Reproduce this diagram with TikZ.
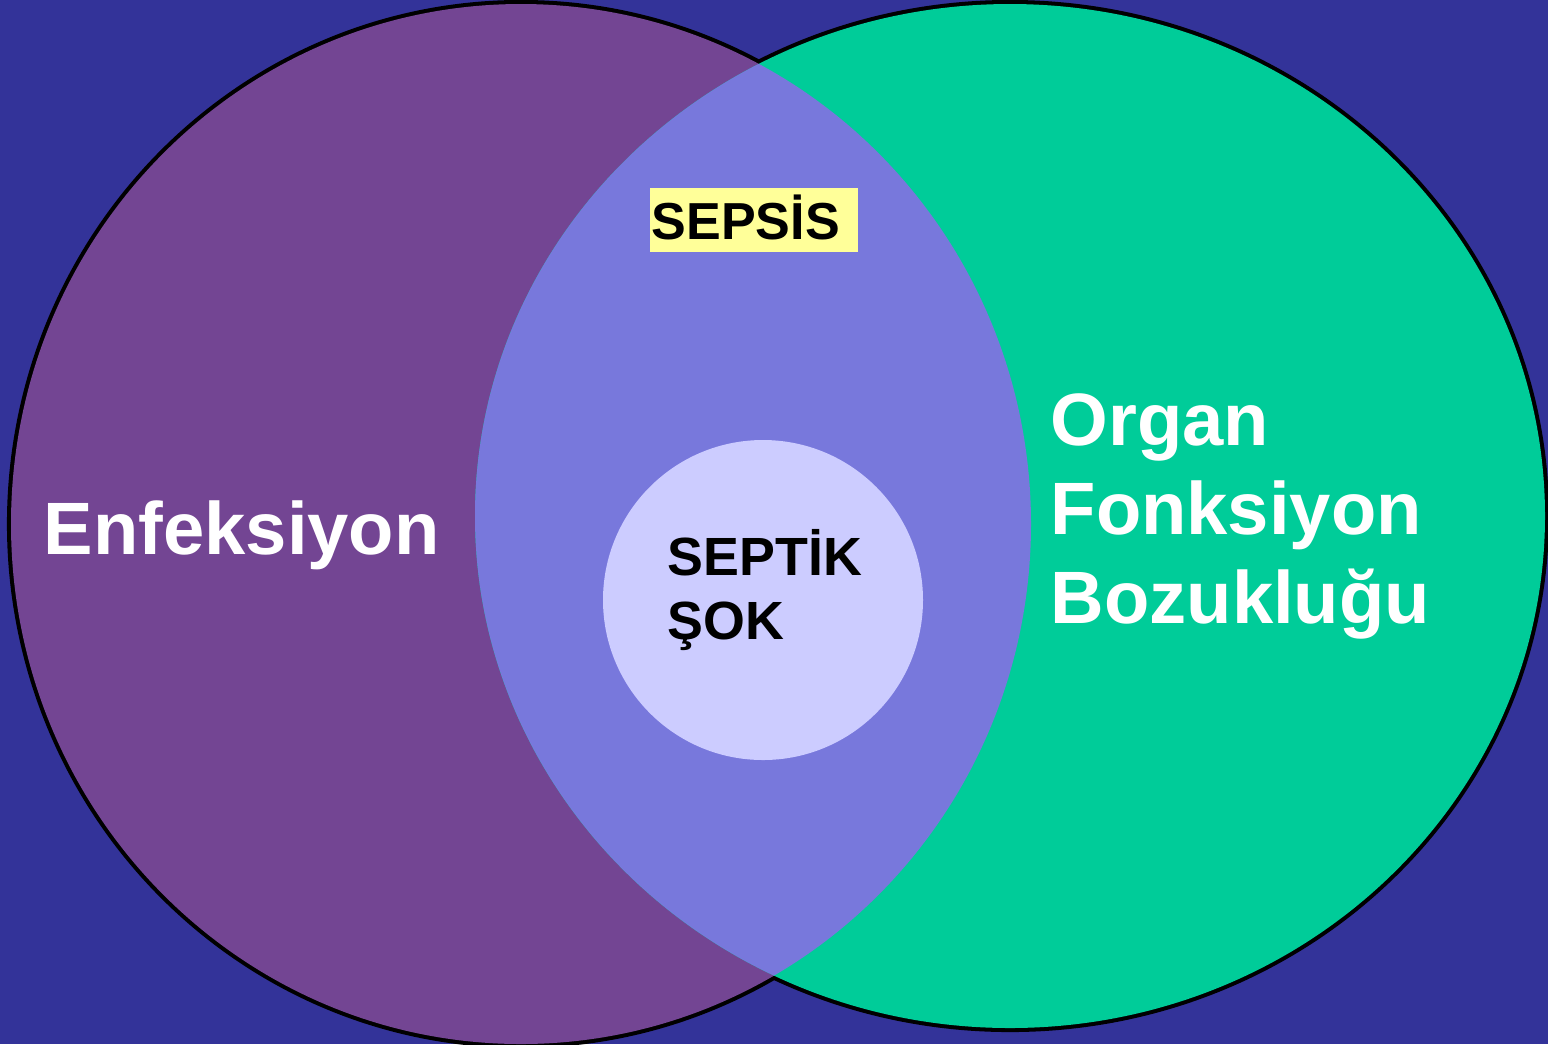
\documentclass[tikz,border=0pt]{standalone}
\usepackage{fontspec}
\setmainfont{Liberation Sans}
\usetikzlibrary{positioning}
\definecolor{bgblue}{HTML}{333399}
\definecolor{infpurple}{HTML}{734593}
\definecolor{organgreen}{HTML}{00CC99}
\definecolor{sepsisblue}{HTML}{7878DC}
\definecolor{shocklilac}{HTML}{CCCCFF}
\definecolor{tagyellow}{HTML}{FFFF99}

\begin{document}
\begin{tikzpicture}[
  x=0.01cm, y=-0.01cm,
  rim/.style={draw=black, line width=2.3pt},
  bigtext/.style={font=\bfseries\fontsize{21.1}{25.3}\selectfont, text=white, inner sep=0pt, align=left},
  smalltext/.style={font=\bfseries\fontsize{15.3}{18.2}\selectfont, text=black, inner sep=0pt, align=left},
  tag/.style={fill=tagyellow, font=\bfseries\fontsize{14.8}{18}\selectfont, text width=2.04cm, inner xsep=0.02cm, inner ysep=0pt, text height=0.51cm, text depth=0.13cm, align=left}
]
\useasboundingbox (0,0) rectangle (1548,1044);
\fill[bgblue] (0,0) rectangle (1548,1044);

\draw[rim] (521,524) ellipse [x radius=510, y radius=520];
\draw[rim] (1010,516) ellipse [x radius=535, y radius=512];
\fill[infpurple] (521,524) ellipse [x radius=510, y radius=520];
\fill[organgreen] (1010,516) ellipse [x radius=535, y radius=512];
\begin{scope}
  \clip (521,524) ellipse [x radius=510, y radius=520];
  \fill[sepsisblue] (1010,516) ellipse [x radius=535, y radius=512];
\end{scope}
\fill[shocklilac] (763,600) circle [radius=160];

\node[bigtext, anchor=base west] (enf) at (43,554) {Enfeksiyon};
\node[bigtext, anchor=base west] (organ) at (1050,623) {Organ\\Fonksiyon\\Bozukluğu};
\node[tag, anchor=base west] (sepsis) at (649,239) {SEPSİS};
\node[smalltext, anchor=base west] (shock) at (667,639) {SEPTİK\\ŞOK};
\end{tikzpicture}
\end{document}
